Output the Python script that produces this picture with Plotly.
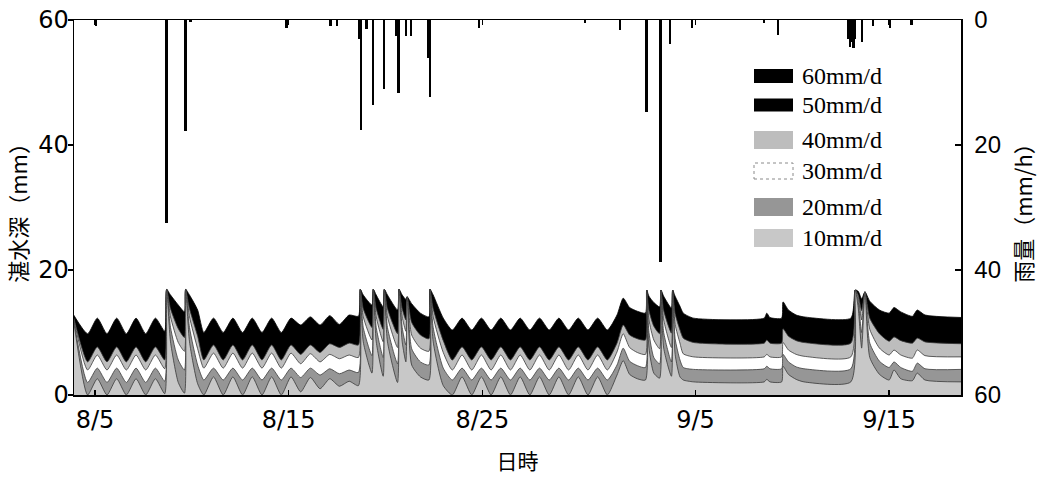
import pandas as pd
import plotly.graph_objects as go

# ---------------- data ----------------
START = "2000-08-04 00:00"          # day 0 of the time axis (8/4 0:00)
X_RANGE = ["2000-08-03 22:00", "2000-09-18 17:00"]
X_TICK_DATES = ["2000-08-05", "2000-08-15", "2000-08-25", "2000-09-05", "2000-09-15"]
X_TICK_TEXT = ["8/5", "8/15", "8/25", "9/5", "9/15"]
SERIES_NAMES = ["60mm/d", "50mm/d", "40mm/d", "30mm/d", "20mm/d", "10mm/d"]

# breakpoint times of the ponding-depth curves (days after 8/4 0:00)
T_DAYS = [
    -0.10, 0.62, 1.12, 1.62, 2.12, 2.62, 3.12, 3.62, 4.12, 4.60,
    4.70, 4.90, 5.30, 5.62, 5.68, 5.88, 6.30, 6.62,
    7.12, 7.62, 8.12, 8.62, 9.12, 9.62, 10.12, 10.62, 11.12, 11.62, 12.12, 12.62, 13.12, 13.62, 14.12, 14.60,
    14.70, 14.85, 15.30, 15.37, 15.52, 15.88, 15.94, 16.10, 16.62, 16.70, 16.86, 17.05, 17.12, 17.35, 17.80, 18.24, 18.30, 18.46, 18.98,
    19.45, 19.95, 20.45, 20.95, 21.45, 21.95, 22.45, 22.95, 23.45, 23.95, 24.45, 24.95, 25.45, 25.95, 26.45, 26.95, 27.45,
    27.95, 28.27, 28.60, 29.00, 29.42, 29.48, 29.60, 29.85, 30.15, 30.22, 30.36, 30.76, 30.82, 30.95, 31.20, 31.37, 31.90,
    35.55, 35.68, 35.85, 36.45, 36.52, 36.80, 37.20, 37.60, 40.02,
    40.25, 40.40, 40.58, 40.75, 41.00, 41.50, 42.00, 42.25, 42.60, 43.20, 43.45, 43.85, 45.75,
]

# ponding depth (mm) for each scenario
D60 = [
    12.8, 9.8, 12.3, 9.8, 12.3, 9.8, 12.3, 9.8, 12.3, 10.2,
    16.9, 16.0, 14.4, 13.3, 16.9, 16.0, 13.6, 10.0,
    12.3, 10.0, 12.3, 10.0, 12.3, 10.0, 12.3, 10.0, 12.3, 11.2, 12.5, 11.2, 12.7, 11.3, 12.8, 12.6,
    16.9, 16.0, 14.4, 16.9, 16.0, 14.1, 16.9, 16.0, 13.6, 16.9, 16.0, 15.3, 15.7, 14.6, 13.1, 12.5, 16.9, 16.0, 12.3,
    10.4, 12.3, 10.4, 12.3, 10.4, 12.3, 10.4, 12.3, 10.4, 12.3, 10.4, 12.3, 10.4, 12.3, 10.4, 12.3, 10.4,
    12.8, 15.5, 14.0, 13.4, 13.1, 16.8, 15.8, 14.8, 14.1, 16.8, 15.8, 13.9, 16.8, 15.8, 14.2, 13.1, 12.3,
    12.3, 13.1, 12.4, 12.3, 14.9, 13.6, 12.8, 12.5, 12.3,
    16.8, 16.6, 15.4, 16.5, 15.0, 13.6, 13.1, 14.0, 13.3, 12.6, 13.6, 12.8, 12.4,
]
D50 = [
    12.6, 7.5, 10.0, 7.5, 10.0, 7.5, 10.0, 7.5, 10.0, 7.9,
    16.9, 15.0, 12.6, 11.3, 16.9, 15.0, 11.6, 7.8,
    10.1, 7.8, 10.1, 7.8, 10.1, 7.8, 10.1, 7.8, 10.1, 9.0, 10.3, 9.2, 10.5, 9.8, 10.6, 10.4,
    16.9, 15.0, 12.8, 16.9, 15.0, 12.4, 16.9, 15.0, 11.8, 16.9, 15.0, 13.8, 15.7, 13.2, 11.3, 10.7, 16.9, 15.0, 10.6,
    8.0, 10.0, 8.0, 10.0, 8.0, 10.0, 8.0, 10.0, 8.0, 10.0, 8.0, 10.0, 8.0, 10.0, 8.0, 10.0, 8.0,
    10.6, 13.5, 11.8, 11.2, 11.0, 16.8, 14.8, 13.0, 12.0, 16.8, 14.8, 11.9, 16.8, 14.5, 12.4, 11.2, 10.3,
    10.3, 10.9, 10.3, 10.3, 12.8, 11.6, 10.8, 10.4, 10.3,
    16.8, 16.3, 14.5, 16.5, 13.8, 11.8, 11.0, 12.0, 11.1, 10.4, 11.4, 10.7, 10.3,
]
D40 = [
    12.4, 5.3, 7.7, 5.3, 7.7, 5.3, 7.7, 5.3, 7.7, 5.6,
    16.9, 13.8, 10.6, 9.2, 16.9, 13.8, 9.4, 5.6,
    8.0, 5.6, 8.0, 5.6, 8.0, 5.6, 8.0, 5.6, 8.0, 6.5, 8.0, 6.8, 8.2, 7.6, 8.3, 8.0,
    16.9, 13.8, 10.8, 16.9, 13.8, 10.5, 16.9, 13.8, 9.8, 16.9, 13.8, 12.0, 15.7, 11.6, 9.6, 9.0, 16.9, 13.8, 8.7,
    5.6, 7.7, 5.6, 7.7, 5.6, 7.7, 5.6, 7.7, 5.6, 7.7, 5.6, 7.7, 5.6, 7.7, 5.6, 7.7, 5.6,
    8.3, 11.2, 9.6, 9.0, 8.8, 16.8, 13.5, 11.0, 9.8, 16.8, 13.5, 9.9, 16.8, 13.0, 10.4, 9.1, 8.4,
    8.3, 8.8, 8.3, 8.3, 10.6, 9.4, 8.7, 8.4, 8.3,
    16.8, 16.0, 13.5, 16.5, 12.3, 9.8, 8.6, 9.3, 8.7, 8.3, 9.1, 8.5, 8.2,
]
D30 = [
    12.2, 4.0, 6.4, 4.0, 6.4, 4.0, 6.4, 4.0, 6.4, 4.2,
    16.9, 12.5, 8.4, 7.0, 16.9, 12.5, 7.4, 4.3,
    6.7, 4.3, 6.7, 4.3, 6.7, 4.3, 6.7, 4.3, 6.7, 5.0, 6.6, 5.3, 6.5, 5.8, 6.4, 6.0,
    16.9, 12.5, 8.8, 16.9, 12.5, 8.5, 16.9, 12.5, 7.6, 16.9, 12.5, 10.2, 15.7, 9.6, 7.5, 7.0, 16.9, 12.5, 6.8,
    4.0, 6.4, 4.0, 6.4, 4.0, 6.4, 4.0, 6.4, 4.0, 6.4, 4.0, 6.4, 4.0, 6.4, 4.0, 6.4, 4.0,
    6.9, 9.8, 7.6, 6.8, 6.5, 16.8, 12.0, 8.8, 7.4, 16.8, 12.0, 7.6, 16.8, 11.3, 8.3, 6.6, 6.1,
    6.1, 6.5, 6.1, 6.1, 8.4, 7.2, 6.5, 6.2, 6.1,
    16.8, 15.6, 12.0, 16.5, 10.5, 7.5, 6.4, 7.2, 6.4, 5.9, 7.2, 6.3, 6.1,
]
D20 = [
    12.0, 2.0, 4.3, 2.0, 4.3, 2.0, 4.3, 2.0, 4.3, 2.2,
    16.9, 10.8, 5.6, 4.0, 16.9, 10.8, 4.8, 2.4,
    4.3, 2.4, 4.3, 2.4, 4.3, 2.4, 4.3, 2.4, 4.3, 2.8, 4.3, 3.2, 4.2, 3.4, 4.0, 3.6,
    16.9, 10.8, 6.3, 16.9, 10.8, 6.0, 16.9, 10.8, 5.0, 16.9, 10.8, 8.0, 15.7, 7.4, 5.3, 4.8, 16.9, 10.8, 4.3,
    2.4, 4.3, 2.4, 4.3, 2.4, 4.3, 2.4, 4.3, 2.4, 4.3, 2.4, 4.3, 2.4, 4.3, 2.4, 4.3, 2.4,
    4.8, 7.5, 5.4, 4.7, 4.4, 16.8, 10.0, 6.0, 5.0, 16.8, 10.0, 5.3, 16.8, 9.0, 5.6, 4.4, 4.1,
    4.2, 4.6, 4.2, 4.2, 6.5, 5.3, 4.5, 4.2, 4.2,
    16.8, 15.0, 10.0, 16.5, 8.3, 5.4, 4.4, 5.3, 4.4, 3.8, 5.1, 4.2, 4.1,
]
D10 = [
    11.8, 0.0, 2.6, 0.0, 2.6, 0.0, 2.6, 0.0, 2.6, 0.2,
    16.9, 8.5, 2.0, 0.3, 16.9, 8.5, 1.8, 0.0,
    2.9, 0.0, 2.9, 0.0, 2.9, 0.0, 2.9, 0.0, 2.9, 0.5, 2.8, 1.0, 2.6, 1.4, 2.2, 1.5,
    16.9, 8.5, 3.5, 16.9, 8.5, 3.0, 16.9, 8.5, 2.0, 16.9, 8.5, 5.3, 15.7, 4.8, 2.9, 2.4, 16.9, 8.5, 1.5,
    0.0, 2.9, 0.0, 2.9, 0.0, 2.9, 0.0, 2.9, 0.0, 2.9, 0.0, 2.9, 0.0, 2.9, 0.0, 2.9, 0.0,
    3.2, 5.5, 3.3, 2.6, 2.4, 16.8, 7.5, 3.5, 2.7, 16.8, 7.5, 3.0, 16.8, 6.5, 2.9, 2.4, 2.1,
    2.1, 2.5, 2.1, 2.1, 4.6, 3.3, 2.5, 2.1, 2.1,
    16.8, 14.0, 7.5, 16.5, 6.0, 3.3, 2.4, 4.0, 2.6, 2.3, 3.5, 2.4, 2.1,
]

# hourly rainfall (mm/h), right reversed axis
RAIN_T = [1.04, 4.70, 5.68, 5.94, 10.90, 13.17, 13.50, 14.66, 14.74, 15.02,
          15.35, 15.92, 16.54, 16.67, 17.06, 17.32, 18.22, 18.30, 20.83, 26.30,
          28.10, 29.46, 30.20, 30.68, 31.83, 35.54, 36.27, 39.87, 39.97, 40.07,
          40.17, 40.24, 40.60, 41.17, 42.05, 43.14]
RAIN_V = [1.0, 32.5, 17.8, 0.3, 1.2, 1.0, 1.0, 3.0, 17.6, 1.5,
          13.6, 11.0, 2.5, 11.7, 2.5, 2.5, 6.0, 12.3, 1.2, 0.5,
          1.6, 14.7, 38.7, 3.8, 1.2, 0.5, 2.4, 3.0, 4.3, 3.5,
          4.5, 3.0, 3.5, 1.0, 1.2, 0.8]

# ---------------- figure ----------------
base = pd.Timestamp(START)
tx = [base + pd.Timedelta(days=d) for d in T_DAYS]
rx = [base + pd.Timedelta(days=d) for d in RAIN_T]

FILLS = ["#000000", "#000000", "#bdbdbd", "#ffffff", "#969696", "#c8c8c8"]
LINES = ["#000000", "#000000", "#3a3a3a", "#3a3a3a", "#3a3a3a", "#3a3a3a"]
series_vals = [D60, D50, D40, D30, D20, D10]

fig = go.Figure()
for name, vals, fc, lc in zip(SERIES_NAMES, series_vals, FILLS, LINES):
    fig.add_trace(go.Scatter(
        x=tx, y=vals, name=name, mode="lines", fill="tozeroy", fillcolor=fc,
        line=dict(color=lc, width=0.8, shape="spline", smoothing=0.6),
        showlegend=False, hoverinfo="skip"))

fig.add_trace(go.Bar(
    x=rx, y=RAIN_V, yaxis="y2", name="雨量",
    marker=dict(color="black", line=dict(width=0)),
    width=0.13 * 86400000, showlegend=False))

# the page body margin is removed (post_script), so the figure sits at (0, 0)
L, R, T, B = 74, 961, 20, 395          # plot area in window pixels
W, H = 1045, 477                       # figure size


def px(x):
    return (x - L) / (R - L)


def py(y):
    return 1 - (y - T) / (B - T)


# manual legend (swatches + labels)
LEG_Y = [76, 105, 140, 171, 207, 238]
LEG_HALF = [7, 6.5, 9, 8, 9, 9]
shapes = []
annots = []
for i, name in enumerate(SERIES_NAMES):
    yc = LEG_Y[i]
    hh = LEG_HALF[i]
    if FILLS[i] == "#ffffff":
        line = dict(color="#8a8a8a", width=1, dash="dot")
    else:
        line = dict(width=0)
    shapes.append(dict(type="rect", xref="paper", yref="paper",
                       x0=px(754), x1=px(793), y0=py(yc + hh), y1=py(yc - hh),
                       fillcolor=FILLS[i], line=line, layer="above"))
    annots.append(dict(xref="paper", yref="paper", x=px(800), y=py(yc),
                       xanchor="left", yanchor="middle", text=name, showarrow=False,
                       font=dict(family="Liberation Serif", size=24, color="black")))

fig.update_layout(
    width=W, height=H,
    margin=dict(l=L, r=W - R, t=T, b=H - B, autoexpand=False),
    plot_bgcolor="white", paper_bgcolor="white",
    showlegend=False, bargap=0,
    shapes=shapes, annotations=annots,
    xaxis=dict(
        type="date", range=X_RANGE, tickvals=X_TICK_DATES, ticktext=X_TICK_TEXT,
        ticks="inside", ticklen=5, tickwidth=1.5, tickcolor="black",
        showline=True, linecolor="black", linewidth=1.5, mirror="ticks",
        showgrid=False, zeroline=False, ticklabelstandoff=3,
        tickfont=dict(family="DejaVu Sans", size=24, color="black"),
        title=dict(text="日時", standoff=21,
                   font=dict(family="Noto Sans CJK JP", size=21, color="black")),
    ),
    yaxis=dict(
        range=[0, 60], tickvals=[0, 20, 40, 60],
        ticks="outside", ticklen=5, tickwidth=1.5, tickcolor="black",
        showline=True, linecolor="black", linewidth=1.5,
        showgrid=False, zeroline=False, ticklabelstandoff=-6,
        ticklabeloverflow="allow",
        tickfont=dict(family="DejaVu Sans", size=24, color="black"),
        title=dict(text="湛水深（mm）", standoff=4,
                   font=dict(family="Noto Sans CJK JP", size=22, color="black")),
    ),
    yaxis2=dict(
        overlaying="y", side="right", range=[60, 0], tickvals=[0, 20, 40, 60],
        ticks="inside", ticklen=6, tickwidth=1.5, tickcolor="black",
        showline=True, linecolor="black", linewidth=1.5,
        showgrid=False, zeroline=False, ticklabelstandoff=7,
        ticklabeloverflow="allow",
        tickfont=dict(family="Liberation Sans", size=24, color="black"),
        title=dict(text="雨量（mm/h）", standoff=16,
                   font=dict(family="Noto Sans CJK JP", size=22, color="black")),
    ),
)

fig.write_html("out.html",
               config={"displayModeBar": False, "staticPlot": True},
               post_script="document.body.style.margin='0';"
                           "document.documentElement.style.overflow='hidden';")
